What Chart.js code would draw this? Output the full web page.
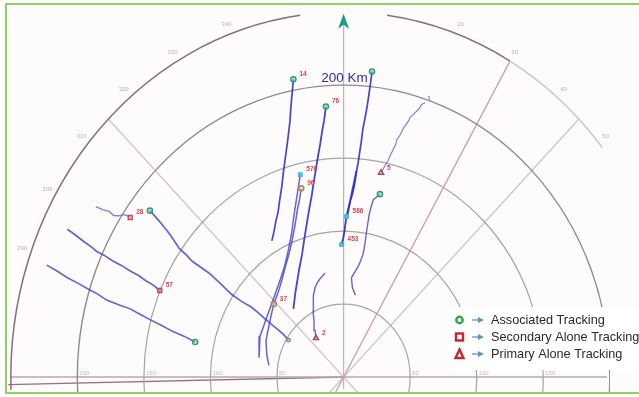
<!DOCTYPE html>
<html>
<head>
<meta charset="utf-8">
<script src="https://cdn.jsdelivr.net/npm/chart.js@4/dist/chart.umd.min.js"></script>
<style>
  html, body { margin: 0; padding: 0; background: #ffffff; }
  canvas { display: block; }
</style>
</head>
<body>
<canvas id="ppi" width="639" height="397"></canvas>
<script>
// Radar PPI: track positions in km (x = east, y = north) relative to the radar.
const rangeRings = [50, 100, 150, 200, 250];
const bearingLabels = [290, 300, 310, 320, 330, 340, 20, 30, 40, 50];
const rangeLabels = ['50', '100', '150', '200'];

const track14  = [[-37.7,204.0],[-39.6,185.0],[-40.3,175.0],[-42.1,161.3],[-43.8,150.0],[-45.1,141.3],[-46.5,130.0],[-48.0,121.3],[-49.2,113.0],[-50.9,106.7],[-52.2,100.0],[-53.9,93.3]];
const track76  = [[-13.3,185.3],[-14.6,176.0],[-16.2,168.0],[-17.5,160.0],[-19.2,151.3],[-22.2,134.7],[-24.0,124.0],[-25.9,114.7],[-29.5,94.7],[-31.2,84.0],[-33.2,74.7],[-36.2,58.0],[-37.7,46.7]];
const track7   = [[21.4,209.3],[20.3,202.0],[19.2,194.7],[17.8,186.0],[16.2,178.0],[14.5,170.0],[13.3,161.3],[11.1,148.0],[9.6,140.0],[8.1,131.3],[6.6,125.0],[5.2,121.3],[3.0,111.3]];
const track586 = [[9.6,141.3],[8.0,134.0],[6.6,128.0],[5.0,121.0],[3.7,116.0],[2.2,110.0],[1.2,104.0],[0.7,100.0],[-0.3,95.0],[-1.5,90.7]];
const track5   = [[28.1,140.0],[31.8,146.0],[33.5,148.5],[35.5,152.7],[39.1,159.3],[40.2,162.8],[42.1,165.3],[45.1,170.7],[48.7,175.3],[50.0,178.0],[52.4,180.0],[56.9,184.0],[58.6,186.8],[61.3,188.0]];
const track0   = [[27.3,125.3],[22.2,121.3],[20.5,116.0],[19.2,111.3],[18.0,104.0],[17.0,98.0],[16.0,91.0],[14.8,84.7],[13.0,80.0],[11.1,76.0],[8.5,72.0],[5.9,68.0],[6.6,61.3],[8.9,56.0]];
const track576 = [[-32.5,138.7],[-34.0,130.0],[-35.5,121.3],[-37.4,110.0],[-39.1,98.0],[-41.5,87.0],[-44.3,76.0],[-47.5,67.0],[-51.0,58.0],[-54.5,49.0],[-57.6,41.3],[-60.4,34.0],[-62.8,28.0],[-63.5,20.0],[-63.5,13.3]];
const track96  = [[-31.8,129.3],[-33.0,122.0],[-34.7,114.7],[-36.5,104.0],[-38.4,94.7],[-40.8,85.0],[-43.6,76.0],[-46.2,67.0],[-48.7,59.3],[-52.4,50.0],[-54.0,44.0],[-55.4,38.0],[-57.0,31.0],[-58.3,24.7],[-57.6,14.7],[-56.1,8.0]];
const track2   = [[-20.7,26.7],[-21.5,32.0],[-22.2,38.0],[-22.9,45.0],[-22.9,51.3],[-22.5,56.0],[-21.4,61.3],[-19.8,64.5],[-17.7,67.3],[-16.0,69.0],[-14.0,71.3]];
const track28  = [[-160.3,109.3],[-163.0,110.8],[-165.4,111.3],[-169.0,110.4],[-172.8,110.7],[-175.8,113.3],[-181.0,114.7],[-186.1,116.7]];
const trackW   = [[-145.5,114.0],[-139.6,108.0],[-135.0,103.0],[-130.7,98.0],[-127.0,93.0],[-123.3,88.0],[-118.0,83.5],[-113.7,79.3],[-107.0,75.0],[-101.2,71.3],[-93.0,64.5],[-84.2,56.7],[-77.0,52.0],[-69.4,48.0],[-64.0,44.0],[-58.3,39.3],[-53.5,35.5],[-49.5,32.7],[-45.0,29.0],[-41.4,25.3]];
const track57  = [[-138.1,59.3],[-143.0,63.0],[-148.5,66.0],[-154.0,69.5],[-160.3,72.7],[-167.0,76.5],[-174.3,80.0],[-180.0,83.5],[-185.4,86.0],[-190.0,89.5],[-195.0,92.7],[-201.0,97.0],[-207.5,101.3]];
const trackSW  = [[-111.5,24.0],[-120.0,28.0],[-128.5,31.3],[-137.0,35.5],[-145.5,39.3],[-153.0,43.0],[-160.3,46.7],[-169.0,49.5],[-178.0,52.7],[-185.0,57.0],[-191.3,60.0],[-199.0,64.0],[-207.5,68.0],[-215.0,72.5],[-223.0,76.7]];

// Track end markers by type, with their track numbers
const associatedPos   = [[-37.7,204.0],[-13.3,185.3],[21.4,209.3],[27.3,125.3],[-145.5,114.0],[-111.5,24.0]];
const associatedIds   = ['14','76','','','',''];
const secondaryPos    = [[-160.3,109.3],[-138.1,59.3]];
const secondaryIds    = ['28','57'];
const secondaryOldPos = [[-31.8,129.3],[-52.4,50.0]];
const secondaryOldIds = ['96','37'];
const primaryPos      = [[28.1,140.0],[-20.7,26.7]];
const primaryIds      = ['5','2'];
const plotPos         = [[-32.5,138.7],[2.2,110.0],[-1.5,90.7]];
const plotIds         = ['576','586','453'];
const coastPos        = [[-41.4,25.3]];

const legendItems = ['Associated Tracking', 'Secondary Alone Tracking', 'Primary Alone Tracking'];

const pts = a => a.map(p => ({ x: p[0], y: p[1] }));

function trackSet(data, color, width) {
  return { type: 'line', data: pts(data), borderColor: color, borderWidth: width,
           pointRadius: 0, fill: false, tension: 0, order: 5 };
}
function markerSet(data, ids, style, color, radius, fillColor) {
  return { type: 'scatter', data: pts(data), ids: ids, pointStyle: style,
           pointRadius: radius, borderColor: color, borderWidth: 1.4,
           backgroundColor: fillColor, order: 1 };
}

const dark = 'rgba(48,48,208,0.9)';
const mid = 'rgba(66,66,200,0.82)';
const light = 'rgba(100,110,222,0.85)';

const datasets = [
  trackSet(track14, dark, 1.7),
  trackSet(track76, dark, 1.8),
  trackSet(track7, dark, 1.7),
  trackSet(track586, 'rgba(40,40,190,0.9)', 1.8),
  trackSet(track5, light, 1.2),
  trackSet(track0, mid, 1.4),
  trackSet(track576, mid, 1.5),
  trackSet(track96, mid, 1.5),
  trackSet(track2, mid, 1.4),
  trackSet(track28, light, 1.4),
  trackSet(trackW, mid, 1.7),
  trackSet(track57, mid, 1.7),
  trackSet(trackSW, mid, 1.6),
  markerSet(associatedPos, associatedIds, 'circle', '#2c9e6a', 2.6, 'rgba(120,200,170,0.5)'),
  markerSet(secondaryPos, secondaryIds, 'rect', '#c24a5a', 2.8, 'rgba(230,160,170,0.5)'),
  markerSet(secondaryOldPos, secondaryOldIds, 'circle', '#b0805a', 2.6, 'rgba(230,200,150,0.5)'),
  markerSet(primaryPos, primaryIds, 'triangle', '#b04a4a', 3.0, 'rgba(230,170,170,0.4)'),
  markerSet(plotPos, plotIds, 'rect', '#3ab8e0', 2.4, 'rgba(80,200,235,0.9)'),
  markerSet(coastPos, [''], 'circle', '#8a8aa8', 1.8, 'rgba(200,200,220,0.6)')
];

const ppiPlugin = {
  id: 'ppi',
  beforeDraw(chart) {
    const ctx = chart.ctx;
    ctx.save();
    ctx.fillStyle = '#ffffff';
    ctx.fillRect(0, 0, chart.width, chart.height);
    ctx.fillStyle = '#fdfbfc';
    ctx.fillRect(6, 4, chart.width - 6, 389);
    ctx.restore();
  },
  beforeDatasetsDraw(chart) {
    const ctx = chart.ctx, xs = chart.scales.x, ys = chart.scales.y;
    const cx = xs.getPixelForValue(0), cy = ys.getPixelForValue(0);
    const rx = r => xs.getPixelForValue(r) - cx;
    const ry = r => cy - ys.getPixelForValue(r);
    const az = d => (d - 90) * Math.PI / 180;
    const at = (r, d) => [cx + rx(r) * Math.cos(az(d)), cy + ry(r) * Math.sin(az(d))];
    ctx.save();
    ctx.beginPath();
    ctx.rect(6, 4, 604, 389);
    ctx.clip();

    // spokes
    const spoke = (d, r, color, w, both) => {
      const a = at(r, d), b = both ? at(r, d + 180) : [cx, cy];
      ctx.strokeStyle = color; ctx.lineWidth = w;
      ctx.beginPath(); ctx.moveTo(b[0], b[1]); ctx.lineTo(a[0], a[1]); ctx.stroke();
    };
    spoke(315, 250, '#cfc6c8', 1.3, true);
    spoke(45, 250, '#cdc6c8', 1.3, true);
    spoke(30, 250, '#cf9ea2', 1.3, true);
    spoke(268.8, 252, '#a07070', 1.3, false);
    // north line and east-west axis
    ctx.strokeStyle = '#bdb8ba'; ctx.lineWidth = 1.3;
    ctx.beginPath(); ctx.moveTo(cx, cy + 12); ctx.lineTo(cx, ys.getPixelForValue(241)); ctx.stroke();
    ctx.strokeStyle = '#b5aaac';
    ctx.beginPath(); ctx.moveTo(at(250, 270)[0], cy); ctx.lineTo(607, cy); ctx.stroke();

    // range rings
    rangeRings.slice(0, 4).forEach((r, i) => {
      ctx.strokeStyle = i === 3 ? '#8e8a8c' : '#a8a4a6';
      ctx.lineWidth = i === 3 ? 1.4 : 1.2;
      ctx.beginPath(); ctx.ellipse(cx, cy, rx(r), ry(r), 0, 0, Math.PI * 2); ctx.stroke();
    });
    const outer = rangeRings[4];
    ctx.lineWidth = 1.5;
    ctx.strokeStyle = '#8a6e72';
    ctx.beginPath(); ctx.ellipse(cx, cy, rx(outer), ry(outer), 0, az(268), az(352.5)); ctx.stroke();
    ctx.beginPath(); ctx.ellipse(cx, cy, rx(outer), ry(outer), 0, az(7.5), az(30)); ctx.stroke();
    ctx.strokeStyle = '#cdc5c7';
    ctx.beginPath(); ctx.ellipse(cx, cy, rx(outer), ry(outer), 0, az(30), az(51)); ctx.stroke();

    // bearing labels outside the outer ring
    ctx.fillStyle = '#b8b2b4';
    ctx.font = '6px "Liberation Sans", Arial, sans-serif';
    ctx.textAlign = 'center'; ctx.textBaseline = 'middle';
    bearingLabels.forEach(b => {
      const p = at(257, b);
      ctx.fillText(String(b), p[0], p[1]);
    });
    // range labels along the axis
    ctx.fillStyle = '#c4bec0';
    ctx.textAlign = 'left'; ctx.textBaseline = 'bottom';
    rangeLabels.forEach((t, i) => {
      const r = rangeRings[i];
      ctx.fillText(t, cx - rx(r) + 2, cy - 1);
      if (i < 3) ctx.fillText(t, cx + rx(r) + 2, cy - 1);
    });
    ctx.restore();

    // north arrow
    ctx.save();
    const ty = ys.getPixelForValue(249);
    ctx.fillStyle = '#1a9c86';
    ctx.beginPath();
    ctx.moveTo(cx, ty); ctx.lineTo(cx + 5.5, ty + 15); ctx.lineTo(cx, ty + 11);
    ctx.lineTo(cx - 5.5, ty + 15); ctx.closePath(); ctx.fill();
    // range annotation at the 200 km ring
    ctx.fillStyle = '#2e2eae';
    ctx.font = '13.5px "Liberation Sans", Arial, sans-serif';
    ctx.textAlign = 'center'; ctx.textBaseline = 'middle';
    ctx.fillText('200 Km', cx + 1, ys.getPixelForValue(rangeRings[3]) - 7);
    ctx.restore();
  },
  afterDatasetsDraw(chart) {
    const ctx = chart.ctx;
    ctx.save();
    // track numbers beside the markers
    ctx.font = 'bold 6.5px "Liberation Sans", Arial, sans-serif';
    ctx.fillStyle = '#e2404c';
    ctx.textAlign = 'left'; ctx.textBaseline = 'middle';
    chart.data.datasets.forEach((ds, i) => {
      if (!ds.ids) return;
      const meta = chart.getDatasetMeta(i);
      meta.data.forEach((el, j) => {
        const t = ds.ids[j];
        if (t) ctx.fillText(t, el.x + 6, el.y - 5);
      });
    });
    // start label of track 5
    const xs = chart.scales.x, ys = chart.scales.y;
    const s = track5[track5.length - 1];
    ctx.fillStyle = '#8088c8';
    ctx.fillText('1', xs.getPixelForValue(s[0]) + 2, ys.getPixelForValue(s[1]) - 3);

    // legend
    ctx.fillStyle = '#ffffff';
    ctx.fillRect(448, 307, 191, 63);
    const rows = [320, 337, 354];
    ctx.font = '12.7px "Liberation Sans", Arial, sans-serif';
    ctx.textBaseline = 'middle';
    legendItems.forEach((t, i) => {
      const y = rows[i];
      ctx.lineWidth = 2.4;
      if (i === 0) {
        ctx.strokeStyle = '#2fa64e';
        ctx.beginPath(); ctx.arc(459.5, y, 3.2, 0, Math.PI * 2); ctx.stroke();
      } else if (i === 1) {
        ctx.strokeStyle = '#c3262c';
        ctx.strokeRect(456, y - 3.5, 7, 7);
      } else {
        ctx.strokeStyle = '#c3262c';
        ctx.beginPath(); ctx.moveTo(459.5, y - 4.5); ctx.lineTo(463.5, y + 4); ctx.lineTo(455.5, y + 4);
        ctx.closePath(); ctx.stroke();
      }
      ctx.strokeStyle = '#5b95c6'; ctx.fillStyle = '#5b95c6'; ctx.lineWidth = 1.3;
      ctx.beginPath(); ctx.moveTo(472, y); ctx.lineTo(479, y); ctx.stroke();
      ctx.beginPath(); ctx.moveTo(484, y); ctx.lineTo(478, y - 3); ctx.lineTo(478, y + 3); ctx.closePath(); ctx.fill();
      ctx.fillStyle = '#2a2a2a';
      ctx.fillText(t, 491, y);
    });
    ctx.restore();
  },
  afterDraw(chart) {
    const ctx = chart.ctx;
    ctx.save();
    ctx.strokeStyle = '#8ed35c';
    ctx.lineWidth = 2;
    ctx.beginPath();
    ctx.moveTo(639, 4); ctx.lineTo(6, 4); ctx.lineTo(6, 393); ctx.lineTo(639, 393);
    ctx.stroke();
    ctx.restore();
  }
};

new Chart(document.getElementById('ppi'), {
  type: 'scatter',
  data: { datasets: datasets },
  options: {
    responsive: false,
    animation: false,
    devicePixelRatio: 1,
    layout: { padding: 0 },
    scales: {
      x: { type: 'linear', min: -254.06, max: 217.87, display: false },
      y: { type: 'linear', min: -10, max: 254.67, display: false }
    },
    plugins: { legend: { display: false }, tooltip: { enabled: false } }
  },
  plugins: [ppiPlugin]
});
</script>
</body>
</html>
